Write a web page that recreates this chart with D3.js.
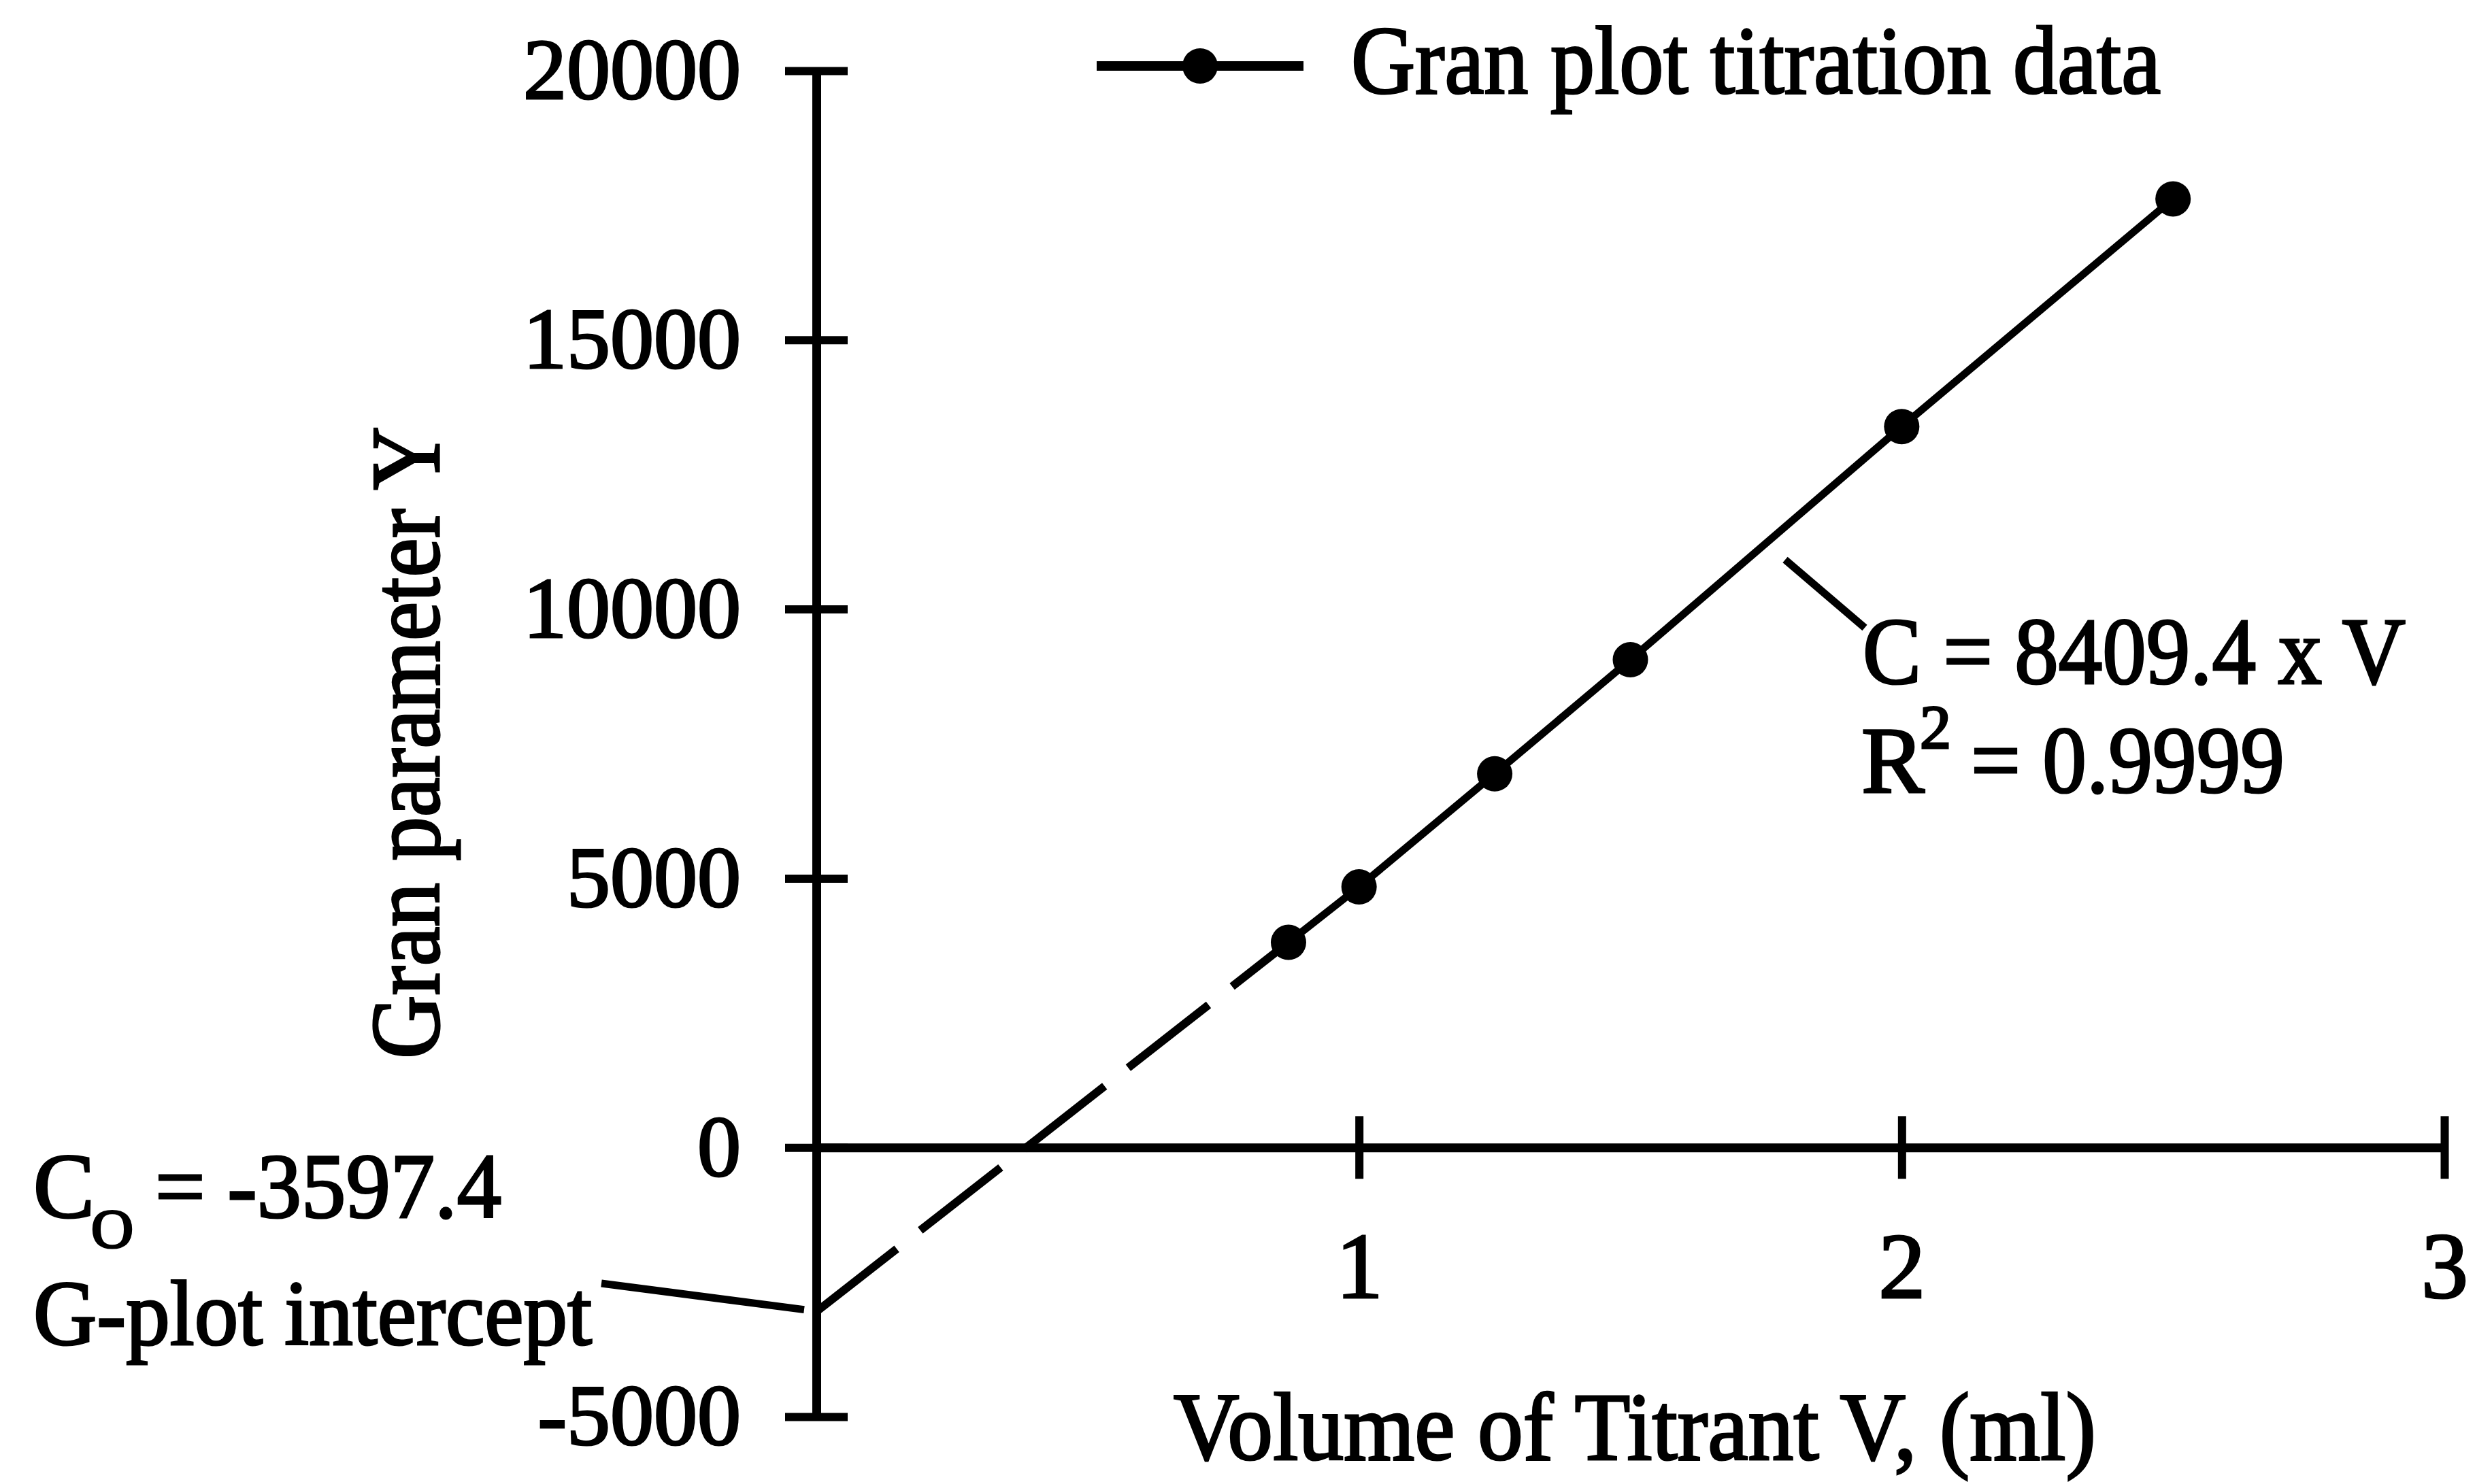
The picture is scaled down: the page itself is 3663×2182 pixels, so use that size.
<!DOCTYPE html>
<html>
<head>
<meta charset="utf-8">
<script src="https://cdn.jsdelivr.net/npm/d3@7"></script>
<style>
  body { margin: 0; background: #fff; }
  svg text { font-family: "Liberation Serif", "Times New Roman", serif; fill: #000; stroke: #000; stroke-width: 3.2; }
</style>
</head>
<body>
<svg id="chart" width="3663" height="2182"></svg>
<script>
// gran plot titration data
var volume = [0.87, 1.0, 1.25, 1.5, 2.0, 2.5];
var granY = [3810, 4840, 6940, 9060, 13390, 17620];

// hand drawn dashed extension back to the y axis
var extVolume = [0, 0.87];
var extY = [-3050, 3810];

var xTicks = [1, 2, 3];
var yTicks = [-5000, 0, 5000, 10000, 15000, 20000];

var svg = d3.select('#chart');

var x = d3.scaleLinear().domain([0, 3]).range([1200, 3593]);
var y = d3.scaleLinear().domain([-5000, 20000]).range([2083, 104]);

// plain hyphen for negatives, like the original
var plain = function(d) { return String(d); };

function fit(sel, w) {
  sel.attr('textLength', w).attr('lengthAdjust', 'spacingAndGlyphs');
  return sel;
}

// y axis, ticks straddle the line
var yAxisG = svg.append('g')
  .attr('transform', 'translate(' + x(0) + ',0)')
  .call(d3.axisLeft(y).tickValues(yTicks).tickSize(46).tickSizeOuter(0).tickFormat(plain));
yAxisG.select('.domain').attr('stroke', '#000').attr('stroke-width', 13);
yAxisG.selectAll('.tick line').attr('x1', 46).attr('stroke', '#000').attr('stroke-width', 12);
yAxisG.selectAll('.tick text')
  .attr('x', -111)
  .attr('font-size', 128)
  .style('font-family', '"Liberation Serif", serif');

// x axis on y = 0
var xAxisG = svg.append('g')
  .attr('transform', 'translate(0,' + y(0) + ')')
  .call(d3.axisBottom(x).tickValues(xTicks).tickSize(46).tickSizeOuter(0).tickFormat(plain));
xAxisG.select('.domain').attr('stroke', '#000').attr('stroke-width', 13);
xAxisG.selectAll('.tick line').attr('y1', -46).attr('stroke', '#000').attr('stroke-width', 12);
xAxisG.selectAll('.tick text')
  .attr('y', 221)
  .attr('dy', 0)
  .attr('font-size', 138)
  .style('font-family', '"Liberation Serif", serif');

// dashed extrapolation
var extPts = extVolume.map(function(v, i) { return [v, extY[i]]; });
svg.append('path')
  .datum(extPts)
  .attr('d', d3.line().x(function(d) { return x(d[0]); }).y(function(d) { return y(d[1]); }))
  .attr('fill', 'none')
  .attr('stroke', '#000')
  .attr('stroke-width', 12)
  .attr('stroke-dasharray', '150 44');

// data line + markers
var pts = volume.map(function(v, i) { return [v, granY[i]]; });
svg.append('path')
  .datum(pts)
  .attr('d', d3.line().x(function(d) { return x(d[0]); }).y(function(d) { return y(d[1]); }))
  .attr('fill', 'none')
  .attr('stroke', '#000')
  .attr('stroke-width', 11);

svg.selectAll('circle.pt')
  .data(pts)
  .enter().append('circle')
  .attr('class', 'pt')
  .attr('cx', function(d) { return x(d[0]); })
  .attr('cy', function(d) { return y(d[1]); })
  .attr('r', 26)
  .attr('fill', '#000');

// legend
svg.append('line')
  .attr('x1', 1612).attr('x2', 1916).attr('y1', 97).attr('y2', 97)
  .attr('stroke', '#000').attr('stroke-width', 14);
svg.append('circle').attr('cx', 1764).attr('cy', 97).attr('r', 26).attr('fill', '#000');
fit(svg.append('text').attr('x', 1986).attr('y', 137).attr('font-size', 142)
  .text('Gran plot titration data'), 1190);

// axis titles
fit(svg.append('text')
  .attr('transform', 'translate(645,1092) rotate(-90)')
  .attr('text-anchor', 'middle')
  .attr('font-size', 145)
  .text('Gran parameter Y'), 930);
fit(svg.append('text').attr('x', 1725).attr('y', 2146).attr('font-size', 142)
  .text('Volume of Titrant V, (ml)'), 1356);

// regression annotation
svg.append('line')
  .attr('x1', 2624).attr('y1', 823).attr('x2', 2741).attr('y2', 923)
  .attr('stroke', '#000').attr('stroke-width', 11);
fit(svg.append('text').attr('x', 2738).attr('y', 1005).attr('font-size', 139)
  .text('C = 8409.4 x V'), 798);
svg.append('text').attr('x', 2736).attr('y', 1165).attr('font-size', 139).text('R');
svg.append('text').attr('x', 2822).attr('y', 1100).attr('font-size', 92).text('2');
fit(svg.append('text').attr('x', 2897).attr('y', 1165).attr('font-size', 139)
  .text('= 0.9999'), 461);

// intercept annotation
svg.append('text').attr('x', 49).attr('y', 1790).attr('font-size', 135).text('C');
fit(svg.append('text').attr('x', 134).attr('y', 1834).attr('font-size', 80).text('O'), 62);
fit(svg.append('text').attr('x', 228).attr('y', 1790).attr('font-size', 135)
  .text('= -3597.4'), 509);
fit(svg.append('text').attr('x', 49).attr('y', 1977).attr('font-size', 136)
  .text('G-plot intercept'), 821);
svg.append('line')
  .attr('x1', 884).attr('y1', 1887)
  .attr('x2', x(extVolume[0]) - 18).attr('y2', y(extY[0]) - 3)
  .attr('stroke', '#000').attr('stroke-width', 11);
</script>
</body>
</html>
